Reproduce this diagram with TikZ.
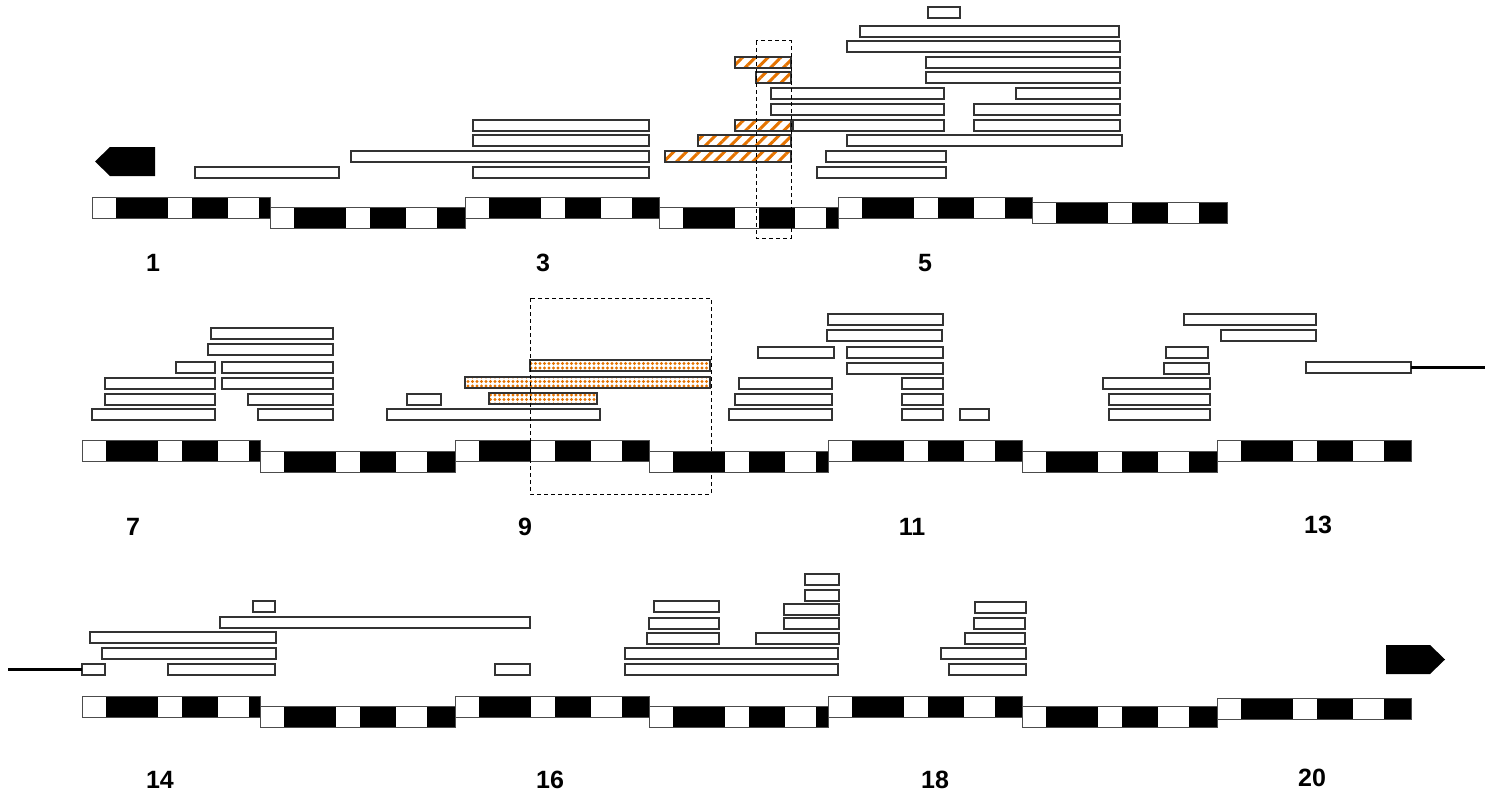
\documentclass[tikz,border=0pt]{standalone}
\usepackage{fontspec}
\setmainfont{Liberation Sans}
\usetikzlibrary{patterns.meta}
\tikzset{
  read/.style={draw=black!80,fill=white,line width=1.1pt},
  hatch/.style={draw=black!80,line width=1.1pt,preaction={fill=white},
    pattern={Lines[angle=45,distance=9pt,line width=3pt]},pattern color=orange!90!black},
  dots/.style={draw=black!80,line width=1.1pt,preaction={fill=white},
    pattern={Dots[radius=1.6pt,distance=4.5pt]},pattern color=orange!90!black},
  exonlbl/.style={font=\bfseries\fontsize{25}{25}\selectfont}
}
% one block of the strip: x0, x1, top y
\newcommand{\exon}[3]{%
  \fill[black] (#1,#3) rectangle (#2,#3+21);
  \fill[white] (#1,#3) rectangle (#1+24,#3+21);
  \fill[white] (#1+76,#3) rectangle (#1+100,#3+21);
  \fill[white] (#1+136,#3) rectangle (#1+167,#3+21);
  \draw[black!70,line width=0.8pt] (#1,#3) rectangle (#2,#3+21);}
\begin{document}
\begin{tikzpicture}[x=1pt,y=-1pt]
\useasboundingbox (0,0) rectangle (1493,800);
% strips
\foreach \a/\b/\y in {92/270/197,270/465/207,465/659/197,659/838/207,838/1032/197,1032/1227/202}
  {\exon{\a}{\b}{\y}}
\foreach \a/\b/\y in {82/260/440,260/455/451,455/649/440,649/828/451,828/1022/440,1022/1217/451,1217/1411/440}
  {\exon{\a}{\b}{\y}}
\foreach \a/\b/\y in {82/260/696,260/455/706,455/649/696,649/828/706,828/1022/696,1022/1217/706,1217/1411/698}
  {\exon{\a}{\b}{\y}}
% reads, top row
\foreach \a/\b/\y in {928/960/7,860/1119/26,847/1120/41,926/1120/57,926/1120/72,
  771/944/88,1016/1120/88,771/944/104,974/1120/104,793/944/120,974/1120/120,
  847/1122/135,826/946/151,817/946/167,473/649/120,473/649/135,351/649/151,
  473/649/167,195/339/167}
  {\draw[read] (\a,\y) rectangle (\b,\y+11);}
\foreach \a/\y in {735/57,756/72,735/120,698/135,665/151}
  {\draw[hatch] (\a,\y) rectangle (791,\y+11);}
% reads, middle row
\foreach \a/\b/\y in {211/333/328,208/333/344,176/215/362,222/333/362,105/215/378,
  222/333/378,105/215/394,248/333/394,92/215/409,258/333/409,407/441/394,387/600/409,
  828/943/314,827/942/330,758/834/347,847/943/347,847/943/363,739/832/378,902/943/378,
  735/832/394,902/943/394,729/832/409,902/943/409,960/989/409,
  1184/1316/314,1221/1316/330,1166/1208/347,1164/1209/363,1306/1411/362,
  1103/1210/378,1109/1210/394,1109/1210/409}
  {\draw[read] (\a,\y) rectangle (\b,\y+11);}
\foreach \a/\b/\y in {530/710/360,465/710/377,489/597/393}
  {\draw[dots] (\a,\y) rectangle (\b,\y+11);}
% reads, bottom row
\foreach \a/\b/\y in {805/839/574,805/839/590,253/275/601,654/719/601,784/839/604,
  975/1026/602,220/530/617,649/719/618,784/839/618,974/1025/618,90/276/632,
  647/719/633,756/839/633,965/1025/633,102/276/648,625/838/648,941/1026/648,
  82/105/664,168/275/664,495/530/664,625/838/664,949/1026/664}
  {\draw[read] (\a,\y) rectangle (\b,\y+11);}
% tails and arrows
\coordinate (tailA) at (1411,367.5);
\coordinate (tailB) at (1485,367.5);
\draw[line width=2.2pt] (tailA) -- (tailB);
\coordinate (tailC) at (8,669.5);
\coordinate (tailD) at (82,669.5);
\draw[line width=2.2pt] (tailC) -- (tailD);
\fill (155,147) -- (155,176) -- (110,176) -- (95,161.5) -- (110,147) -- cycle;
\fill (1386,645) -- (1430,645) -- (1445,659.5) -- (1430,674) -- (1386,674) -- cycle;
% dashed frames
\draw[dash pattern=on 4pt off 3pt,line width=1pt] (756,41) rectangle (791,238);
\draw[dash pattern=on 4pt off 3pt,line width=1pt] (530,298) rectangle (711,494);
% labels
\foreach \x/\y/\t in {153/263/1,543/263/3,925/263/5,133/527/7,525/527/9,912/527/11,
  1318/525/13,160/780/14,550/780/16,935/780/18,1312/778/20}
  {\node[exonlbl] (lbl\t) at (\x,\y) {\t};}
\end{tikzpicture}
\end{document}
